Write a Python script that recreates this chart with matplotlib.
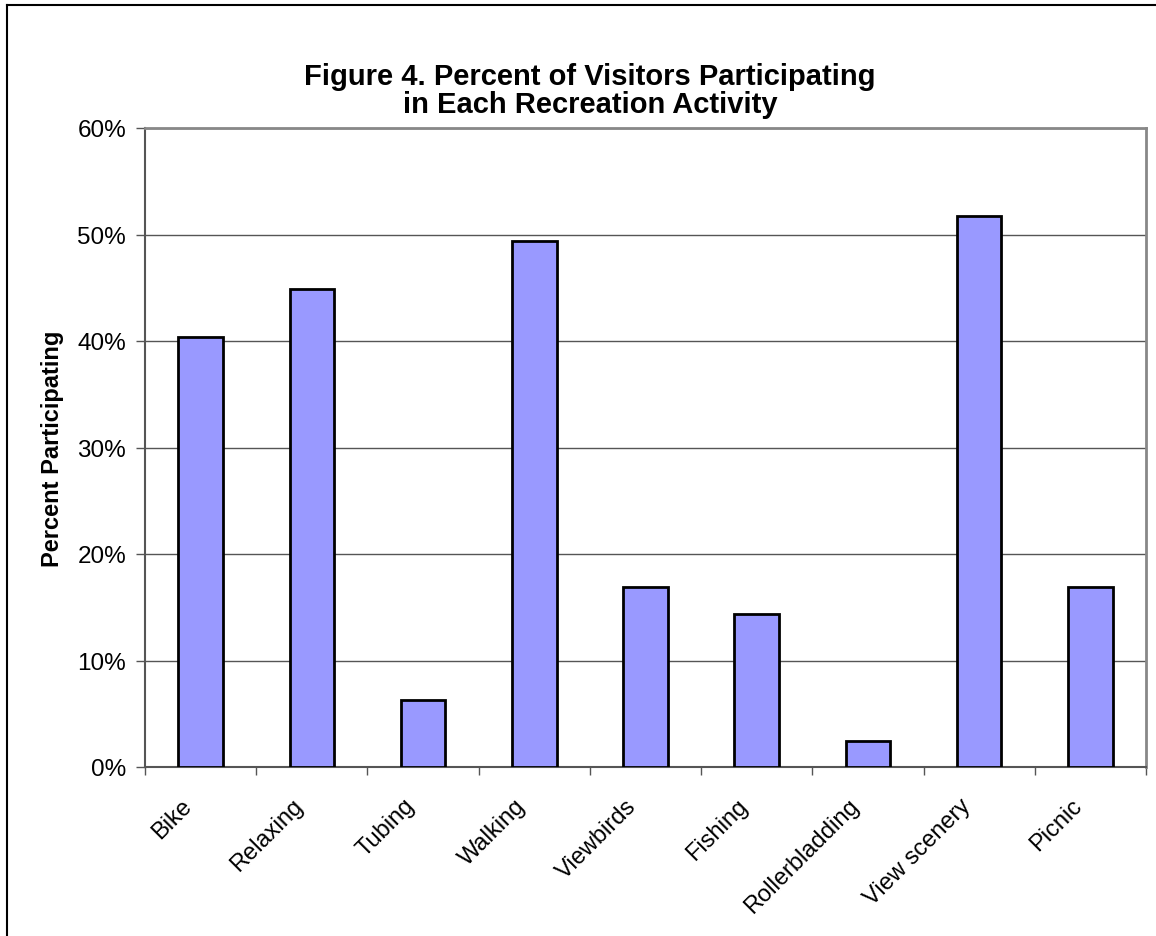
import numpy as np
import matplotlib.pyplot as plt
from matplotlib.lines import Line2D
from matplotlib.ticker import PercentFormatter
from matplotlib.transforms import ScaledTranslation

plt.rcParams['font.family'] = ['Liberation Sans', 'DejaVu Sans']

activities = ['Bike', 'Relaxing', 'Tubing', 'Walking', 'Viewbirds',
              'Fishing', 'Rollerbladding', 'View scenery', 'Picnic']
percent = [40.4, 44.9, 6.3, 49.4, 16.9, 14.4, 2.4, 51.7, 16.9]
yticks = [0, 10, 20, 30, 40, 50, 60]

W, H = 1156, 937
fig = plt.figure(figsize=(W / 100, H / 100), dpi=100)
ax = fig.add_axes([145 / W, 1 - 768 / H, (1146 - 145) / W, (768 - 129) / H])

x = np.arange(len(activities))
ax.bar(x, percent, width=0.4, color='#9999ff', edgecolor='black', linewidth=2, zorder=3)

ax.set_xlim(-0.5, len(activities) - 0.5)
ax.set_ylim(0, 60)
ax.set_yticks(yticks)
ax.yaxis.set_major_formatter(PercentFormatter(decimals=0))
ax.yaxis.grid(True, color='#555555', linewidth=1, zorder=0)

ax.set_xticks(x)
ax.set_xticklabels(activities, rotation=45, ha='right', va='top',
                   rotation_mode='anchor', fontsize=17)
ax.tick_params(axis='x', length=0, pad=11)
# nudge rotated labels down-left like the original
shift = ScaledTranslation(-20 / 100, -12 / 100, fig.dpi_scale_trans)
for lbl in ax.get_xticklabels():
    lbl.set_transform(lbl.get_transform() + shift)
# category boundary ticks
ax.set_xticks(np.arange(-0.5, len(activities)), minor=True)
ax.tick_params(axis='x', which='minor', length=6, width=1, color='#555555', direction='out')
ax.tick_params(axis='y', length=6.5, width=1, color='#555555', labelsize=17.5, pad=7)

for side in ['left', 'bottom']:
    ax.spines[side].set_color('#555555')
    ax.spines[side].set_linewidth(1.5)
for side in ['top', 'right']:
    ax.spines[side].set_color('#888888')
    ax.spines[side].set_linewidth(2)

ax.set_ylabel('Percent Participating', fontsize=17, fontweight='bold', labelpad=10)

fig.text(590 / W, 1 - 91 / H, 'Figure 4. Percent of Visitors Participating\nin Each Recreation Activity',
         ha='center', va='center', fontsize=21, fontweight='bold', linespacing=1.0)

# outer chart border (top and left edges visible)
fig.add_artist(Line2D([7 / W, 7 / W], [0, 1 - 6 / H], color='black', linewidth=1.5))
fig.add_artist(Line2D([7 / W, 1], [1 - 6 / H, 1 - 6 / H], color='black', linewidth=1.5))

fig.savefig('out.png', dpi=100, facecolor='white')
